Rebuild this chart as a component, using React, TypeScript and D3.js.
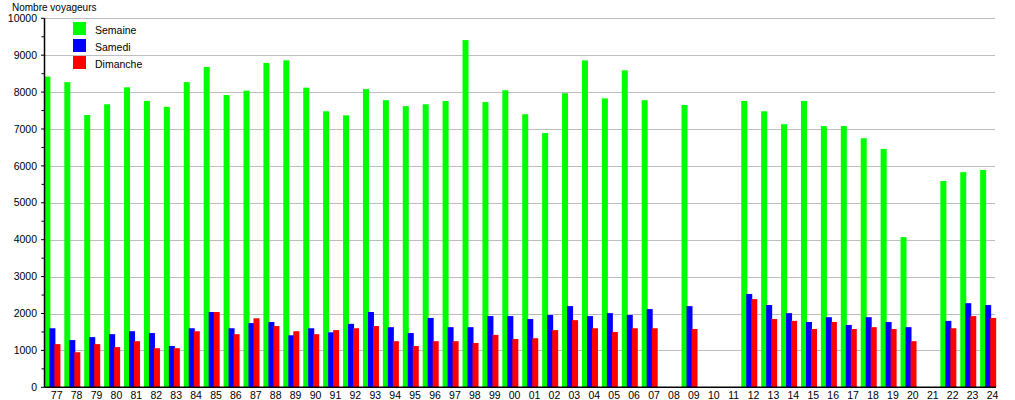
import React from "react";
import * as d3 from "d3";

const categories = ["77","78","79","80","81","82","83","84","85","86","87","88","89","90","91","92","93","94","95","96","97","98","99","00","01","02","03","04","05","06","07","08","09","10","11","12","13","14","15","16","17","18","19","20","21","22","23","24"];

const semaine: (number | null)[] = [8420,8270,7380,7670,8130,7760,7600,8270,8680,7920,8040,8790,8860,8120,7480,7370,8080,7780,7620,7670,7760,9410,7730,8050,7400,6890,7970,8860,7830,8590,7780,null,7650,null,null,7760,7480,7130,7760,7080,7080,6750,6460,4070,null,5590,5830,5890];
const samedi: (number | null)[] = [1600,1280,1360,1440,1520,1470,1120,1600,2040,1600,1740,1770,1410,1600,1490,1720,2040,1630,1470,1880,1630,1630,1930,1930,1850,1960,2200,1930,2010,1960,2120,null,2200,null,null,2530,2230,2010,1770,1900,1690,1900,1770,1630,null,1800,2280,2230];
const dimanche: (number | null)[] = [1170,950,1170,1090,1250,1060,1060,1520,2040,1440,1870,1660,1520,1440,1550,1600,1660,1250,1120,1250,1250,1200,1420,1310,1330,1550,1820,1600,1500,1600,1600,null,1580,null,null,2390,1850,1800,1580,1770,1580,1630,1580,1250,null,1600,1930,1880];

const seriesNames = ["Semaine", "Samedi", "Dimanche"];
const seriesColors = ["#00ff00", "#0000ff", "#ff0000"];
const yTicks = [0,1000,2000,3000,4000,5000,6000,7000,8000,9000,10000];
const yMinorTicks = [500,1500,2500,3500,4500,5500,6500,7500,8500,9500];
const yTitle = "Nombre voyageurs";

const W = 1015, H = 400;
const left = 44.5, right = 995, top = 18.3, bottom = 387.3;
const FONT = "'Liberation Sans', Arial, sans-serif";

export default function App() {
  const x = d3.scaleBand<string>().domain(categories).range([44.4, 44.4 + categories.length * 19.91]).padding(0);
  const y = d3.scaleLinear().domain([0, 10000]).range([bottom, top]);
  const series = [semaine, samedi, dimanche];
  const offsets = [0, 5, 10];
  const bw = 6;

  return (
    <svg width={W} height={H} style={{ position: "absolute", left: 0, top: 0, background: "#fff" }}>
      <rect x={0} y={0} width={W} height={H} fill="#fff" />
      {yTicks.filter(t => t > 0).map(t => (
        <line key={"g" + t} x1={left} x2={right} y1={Math.round(y(t)) + 0.5} y2={Math.round(y(t)) + 0.5} stroke="#bdbdbd" strokeWidth={1} />
      ))}
      {series.map((vals, si) =>
        vals.map((v, i) =>
          v == null ? null : (
            <rect key={si + "-" + i} x={(x(categories[i]) as number) + offsets[si]} y={y(v)} width={bw} height={y(0) - y(v)} fill={seriesColors[si]} />
          )
        )
      )}
      <line x1={left} x2={left} y1={top} y2={bottom} stroke="#000" strokeWidth={1.5} />
      <line x1={left} x2={996} y1={bottom} y2={bottom} stroke="#000" strokeWidth={1.5} />
      {yTicks.map(t => (
        <g key={"t" + t}>
          <line x1={left - 3.5} x2={left} y1={y(t)} y2={y(t)} stroke="#000" strokeWidth={1} />
          <text x={37} y={y(t)} dy="0.35em" textAnchor="end" fontFamily={FONT} fontSize={10.5} fill="#000">{t}</text>
        </g>
      ))}
      {yMinorTicks.map(t => (
        <line key={"m" + t} x1={left - 3} x2={left} y1={y(t)} y2={y(t)} stroke="#000" strokeWidth={1} />
      ))}
      {categories.map(c => (
        <text key={"x" + c} x={(x(c) as number) + 12.3} y={398.5} textAnchor="middle" fontFamily={FONT} fontSize={10.5} fill="#000">{c}</text>
      ))}
      <text x={12} y={7.5} dy="0.35em" fontFamily={FONT} fontSize={10} fill="#000">{yTitle}</text>
      {seriesNames.map((n, i) => (
        <g key={"l" + n}>
          <rect x={73} y={22 + i * 17} width={13} height={13} fill={seriesColors[i]} />
          <text x={95} y={30 + i * 17} dy="0.35em" fontFamily={FONT} fontSize={10.5} fill="#000">{n}</text>
        </g>
      ))}
    </svg>
  );
}
